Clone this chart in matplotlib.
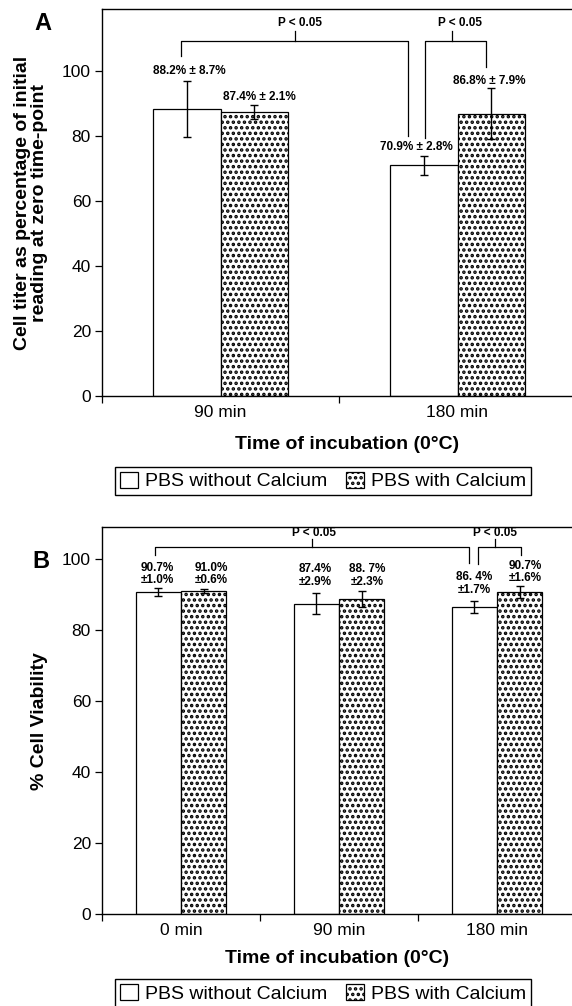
import matplotlib
matplotlib.use("Agg")
import matplotlib.pyplot as plt
from matplotlib.patches import Patch
import numpy as np

plt.rcParams['font.family'] = ['Liberation Sans', 'DejaVu Sans']
plt.rcParams['hatch.linewidth'] = 1.7

# panel A data
cats_a = ["90 min", "180 min"]
no_ca_a = [88.2, 70.9]
no_ca_a_err = [8.7, 2.8]
ca_a = [87.4, 86.8]
ca_a_err = [2.1, 7.9]
lab_no_ca_a = ["88.2% \u00b1 8.7%", "70.9% \u00b1 2.8%"]
lab_ca_a = ["87.4% \u00b1 2.1%", "86.8% \u00b1 7.9%"]

# panel B data
cats_b = ["0 min", "90 min", "180 min"]
no_ca_b = [90.7, 87.4, 86.4]
no_ca_b_err = [1.0, 2.9, 1.7]
ca_b = [91.0, 88.7, 90.7]
ca_b_err = [0.6, 2.3, 1.6]
lab_no_ca_b = ["90.7%\n\u00b11.0%", "87.4%\n\u00b12.9%", "86. 4%\n\u00b11.7%"]
lab_ca_b = ["91.0%\n\u00b10.6%", "88. 7%\n\u00b12.3%", "90.7%\n\u00b11.6%"]

W, H = 572, 1006
fig = plt.figure(figsize=(W / 100, H / 100), dpi=100)

def px_axes(l, t, r, b):
    return fig.add_axes([l / W, 1 - b / H, (r - l) / W, (b - t) / H])

bw = 0.285
HATCH = '...'


def draw_panel(ax, cats, v1, e1, v2, e2, ymax):
    x = np.arange(len(cats))
    ax.bar(x - bw / 2, v1, bw, color='white', edgecolor='black', linewidth=0.9)
    ax.bar(x + bw / 2, v2, bw, color='white', edgecolor='black', linewidth=0.9,
           hatch=HATCH)
    ax.errorbar(x - bw / 2, v1, yerr=e1, fmt='none', ecolor='black',
                elinewidth=1.0, capsize=3, capthick=1.0)
    ax.errorbar(x + bw / 2, v2, yerr=e2, fmt='none', ecolor='black',
                elinewidth=1.0, capsize=3, capthick=1.0)
    ax.set_xlim(-0.5, len(cats) - 0.5)
    ax.set_ylim(0, ymax)
    ax.set_yticks([0, 20, 40, 60, 80, 100])
    ax.set_xticks(np.arange(len(cats) + 1) - 0.5)
    ax.set_xticklabels([])
    ax.set_xticks(x, minor=True)
    ax.set_xticklabels(cats, minor=True)
    ax.tick_params(axis='x', which='minor', length=0, pad=6.5, labelsize=12.5)
    ax.tick_params(axis='x', which='major', length=5, width=0.9, direction='out')
    ax.tick_params(axis='y', length=5, width=0.9, direction='out', labelsize=12.5, pad=3)
    ax.spines['right'].set_visible(False)
    for s in ['left', 'top', 'bottom']:
        ax.spines[s].set_linewidth(1.0)
    return x


def bracket(ax, xl, yl, xr, yr, ytop, xm, ytick, ytxt, xt):
    ax.plot([xl, xl, xr, xr], [yl, ytop, ytop, yr], color='black', lw=0.9,
            clip_on=False)
    ax.plot([xm, xm], [ytop, ytick], color='black', lw=0.9, clip_on=False)
    ax.text(xt, ytxt, "P < 0.05", ha='center', va='center', fontsize=8.5,
            fontweight='bold', clip_on=False)


# ---------------- panel A ----------------
axA = px_axes(102, 9, 576, 396)
xa = draw_panel(axA, cats_a, no_ca_a, no_ca_a_err, ca_a, ca_a_err, 119)
lab_pos_a1 = [(-0.133, 99.8), (0.825, 76.7)]
lab_pos_a2 = [(0.162, 91.8), (1.133, 97.0)]
for (px, py), t in zip(lab_pos_a1, lab_no_ca_a):
    axA.text(px, py, t, ha='center', va='center', fontsize=8.5, fontweight='bold')
for (px, py), t in zip(lab_pos_a2, lab_ca_a):
    axA.text(px, py, t, ha='center', va='center', fontsize=8.5, fontweight='bold')
bracket(axA, -0.168, 104.4, 0.791, 79.8, 109.3, 0.314, 112.1, 114.6, 0.335)
bracket(axA, 0.863, 79.3, 1.12, 101.3, 109.3, 0.976, 112.1, 114.6, 1.009)
axA.set_xlabel("Time of incubation (0\u00b0C)", fontsize=14, fontweight='bold')
axA.xaxis.set_label_coords(0.516, -0.103)
fig.text(31 / W, 1 - 203 / H,
         "Cell titer as percentage of initial\nreading at zero time-point",
         rotation=90, ha='center', va='center', fontsize=14, fontweight='bold',
         linespacing=1.05)
fig.text(43 / W, 1 - 24 / H, "A", ha='center', va='center', fontsize=17,
         fontweight='bold')

# ---------------- panel B ----------------
axB = px_axes(102, 526.7, 576, 914)
xb = draw_panel(axB, cats_b, no_ca_b, no_ca_b_err, ca_b, ca_b_err, 109.1)
lab_pos_b1 = [(-0.148, 95.8), (0.852, 95.4), (1.856, 93.1)]
lab_pos_b2 = [(0.19, 95.8), (1.18, 95.4), (2.18, 96.3)]
for (px, py), t in zip(lab_pos_b1, lab_no_ca_b):
    axB.text(px, py, t, ha='center', va='center', fontsize=8.5, fontweight='bold',
             linespacing=1.05)
for (px, py), t in zip(lab_pos_b2, lab_ca_b):
    axB.text(px, py, t, ha='center', va='center', fontsize=8.5, fontweight='bold',
             linespacing=1.05)
bracket(axB, -0.164, 101.1, 1.82, 98.9, 103.5, 0.829, 105.5, 107.3, 0.84)
bracket(axB, 1.88, 98.6, 2.15, 101.1, 103.5, 1.99, 105.5, 107.3, 1.99)
axB.set_xlabel("Time of incubation (0\u00b0C)", fontsize=14, fontweight='bold')
axB.xaxis.set_label_coords(0.495, -0.092)
fig.text(40 / W, 1 - 721 / H, "% Cell Viability", rotation=90, ha='center',
         va='center', fontsize=14, fontweight='bold')
fig.text(41 / W, 1 - 562 / H, "B", ha='center', va='center', fontsize=17,
         fontweight='bold')

# legends
handles = [Patch(facecolor='white', edgecolor='black', linewidth=0.9),
           Patch(facecolor='white', edgecolor='black', linewidth=0.9, hatch=HATCH)]
names = ["PBS without Calcium", "PBS with Calcium"]
for cy in [481, 993.7]:
    fig.legend(handles, names, loc='center', bbox_to_anchor=(323 / W, 1 - cy / H),
               ncol=2, fontsize=14, frameon=True, fancybox=False,
               edgecolor='black', framealpha=1, handlelength=0.9,
               handleheight=0.9, handletextpad=0.35, columnspacing=1.0,
               borderpad=0.25, borderaxespad=0)

fig.savefig("out.png", dpi=100)
